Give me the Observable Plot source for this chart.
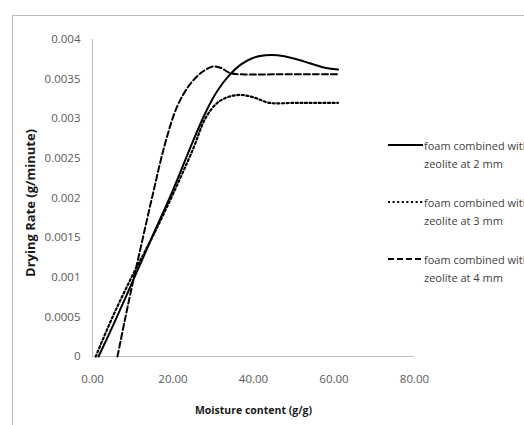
<!DOCTYPE html>
<html>
<head>
<meta charset="utf-8">
<script src="https://cdn.jsdelivr.net/npm/d3@7"></script>
<script src="https://cdn.jsdelivr.net/npm/@observablehq/plot@0.6"></script>
<style>
  html, body { margin: 0; padding: 0; width: 524px; height: 425px; overflow: hidden; background: #fff; }
  #frame { position: absolute; left: 12px; top: 15px; width: 600px; height: 500px; border: 1.5px solid #bdbdbd; box-sizing: border-box; }
  #chart { position: absolute; left: 0; top: 0; }
  .leg { position: absolute; left: 388px; font-family: "Open Sans", sans-serif; font-size: 11px; color: #404040; white-space: nowrap; }
  .leg svg { position: absolute; left: 0; top: 0; }
  .leg .t { position: absolute; left: 36px; top: -8px; line-height: 18px; }
</style>
</head>
<body>
<div id="frame"></div>
<div id="chart"></div>
<div id="legend"></div>
<script>
// Data
const seriesNames = [
  "foam combined with zeolite at 2 mm",
  "foam combined with zeolite at 3 mm",
  "foam combined with zeolite at 4 mm"
];
const moisture2mm = [1.5, 5, 10, 15, 20, 25, 28, 31, 34, 37, 40, 43, 46, 50, 54, 58, 61];
const rate2mm = [0, 0.00038, 0.00095, 0.00153, 0.0021, 0.00272, 0.00307, 0.00335, 0.00355, 0.00369, 0.00377, 0.0038, 0.0038, 0.00376, 0.0037, 0.00364, 0.00362];
const moisture3mm = [0.8, 5, 10, 15, 20, 25, 28, 31, 34, 37, 40, 44, 50, 55, 61];
const rate3mm = [0, 0.0005, 0.00103, 0.00152, 0.00205, 0.00262, 0.003, 0.0032, 0.00328, 0.0033, 0.00327, 0.0032, 0.0032, 0.0032, 0.0032];
const moisture4mm = [6.2, 8, 10, 12, 15, 18, 21, 24, 27, 30, 32, 34, 37, 45, 55, 61];
const rate4mm = [0, 0.00045, 0.00093, 0.00138, 0.00205, 0.00268, 0.00315, 0.00342, 0.00358, 0.00366, 0.00364, 0.00358, 0.00356, 0.00356, 0.00356, 0.00356];
const xTicks = [0, 20, 40, 60, 80];
const yTicks = [0, 0.0005, 0.001, 0.0015, 0.002, 0.0025, 0.003, 0.0035, 0.004];
const xTitle = "Moisture content (g/g)";
const yTitle = "Drying Rate (g/minute)";

const toRows = (xs, ys) => xs.map((x, i) => ({x, y: ys[i]}));
const s2 = toRows(moisture2mm, rate2mm);
const s3 = toRows(moisture3mm, rate3mm);
const s4 = toRows(moisture4mm, rate4mm);

const dashes = [null, "2,2.6", "6,3"];

const font = "'Open Sans', sans-serif";
const plot = Plot.plot({
  width: 524,
  height: 425,
  marginLeft: 92,
  marginRight: 110,
  marginTop: 39,
  marginBottom: 69,
  style: {background: "transparent", fontFamily: font, fontSize: "11px", color: "#595959"},
  x: {domain: [0, 80]},
  y: {domain: [0, 0.004]},
  marks: [
    Plot.ruleY([0], {stroke: "#bfbfbf", strokeWidth: 1.2}),
    Plot.ruleX([0], {y1: 0, y2: 0.004, stroke: "#bfbfbf", strokeWidth: 1.2}),
    Plot.axisX({ticks: xTicks, tickSize: 0, tickPadding: 18, tickFormat: d3.format(".2f"), label: null, fontSize: 11.5}),
    Plot.axisY({ticks: yTicks, tickSize: 0, tickPadding: 12, tickFormat: d => String(+d.toFixed(4)), label: null, fontSize: 11.5}),
    Plot.text([xTitle], {frameAnchor: "bottom", dy: 57, fontWeight: "bold", fontSize: 10.5, fill: "#1a1a1a"}),
    Plot.text([yTitle], {frameAnchor: "left", dx: -62, dy: 5, rotate: -90, textAnchor: "middle", fontWeight: "bold", fontSize: 13, fill: "#1a1a1a"}),
    Plot.line(s2, {x: "x", y: "y", curve: "catmull-rom", stroke: "#000", strokeWidth: 2}),
    Plot.line(s3, {x: "x", y: "y", curve: "catmull-rom", stroke: "#000", strokeWidth: 2.2, strokeDasharray: dashes[1]}),
    Plot.line(s4, {x: "x", y: "y", curve: "catmull-rom", stroke: "#000", strokeWidth: 2, strokeDasharray: dashes[2]})
  ]
});
document.getElementById("chart").appendChild(plot);

// Legend
const legendTops = [145, 202, 259];
const legend = document.getElementById("legend");
seriesNames.forEach((name, i) => {
  const d = document.createElement("div");
  d.className = "leg";
  d.style.top = legendTops[i] + "px";
  const parts = name.split(" zeolite");
  d.innerHTML = `<svg width="36" height="6" style="top:-3px"><line x1="0" x2="35" y1="3" y2="3" stroke="#000" stroke-width="2.2" ${dashes[i] ? `stroke-dasharray="${dashes[i]}"` : ""}/></svg><div class="t">${parts[0]}<br>zeolite${parts[1]}</div>`;
  legend.appendChild(d);
});
</script>
</body>
</html>
